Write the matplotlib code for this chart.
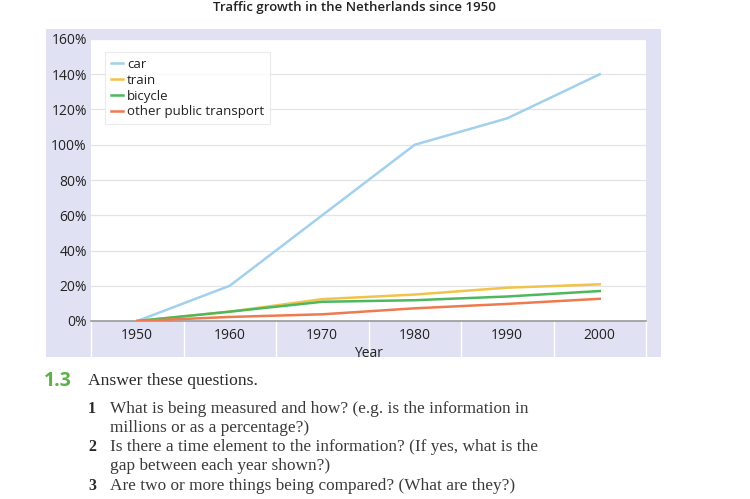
import matplotlib
matplotlib.use("Agg")
import matplotlib.pyplot as plt

years = [1950, 1960, 1970, 1980, 1990, 2000]
car = [0, 20, 60, 100, 115, 140]
train = [0, 5.3, 12.4, 15, 18.9, 20.8]
bicycle = [0, 5.3, 10.9, 11.8, 13.9, 17]
other_pt = [0, 2.3, 3.8, 7.2, 9.7, 12.6]
yticks = [0, 20, 40, 60, 80, 100, 120, 140, 160]
series_names = ["car", "train", "bicycle", "other public transport"]
series_colors = ["#a3d0ec", "#f2c34a", "#4db85e", "#ef7a4f"]

W, H = 750, 499
fig = plt.figure(figsize=(W / 100, H / 100), dpi=100)
fig.patch.set_facecolor("white")

def fx(px):
    return px / W

def fy(py):
    return 1 - py / H

lav = "#e0e1f3"
# lavender panel as a background axes
bg = fig.add_axes([fx(46), fy(357), fx(661) - fx(46), fy(29) - fy(357)], zorder=0)
bg.set_facecolor(lav)
bg.set_xticks([])
bg.set_yticks([])
for s in bg.spines.values():
    s.set_visible(False)

left, right, top, bottom = 91, 646, 39, 321
ax = fig.add_axes([fx(left), fy(bottom), fx(right) - fx(left), fy(top) - fy(bottom)], zorder=2)
ax.set_facecolor("white")

for name, vals, c in zip(series_names, [car, train, bicycle, other_pt], series_colors):
    ax.plot(years, vals, color=c, lw=1.8, label=name, zorder=3)

ax.set_xlim(1945, 2005)
ax.set_ylim(0, 160)
ax.set_yticks(yticks)
ax.set_yticklabels([f"{v}%" for v in yticks], fontsize=10, color="#222222", family="Open Sans")
ax.set_xticks(years)
ax.set_xticklabels([str(y) for y in years], fontsize=10, color="#222222", family="Open Sans")
ax.tick_params(axis="y", length=0, pad=3)
ax.tick_params(axis="x", length=0, pad=5)
for yv in yticks[1:]:
    ax.axhline(yv, color="#e4e4e4", lw=0.9, zorder=1)
for s in ["top", "right", "left"]:
    ax.spines[s].set_visible(False)
ax.spines["bottom"].set_color("#9a9a9a")
ax.spines["bottom"].set_linewidth(1.2)
ax.set_xlabel("Year", fontsize=10, color="#222222", family="Open Sans", labelpad=2)

# white separators in lower band
for yr in [1945, 1955, 1965, 1975, 1985, 1995, 2005]:
    ax.plot([yr, yr], [0, -20], color="white", lw=1.0, clip_on=False, zorder=0)

leg = ax.legend(loc="upper left", bbox_to_anchor=(0.014, 0.978), frameon=True,
                handlelength=0.9, handletextpad=0.3, labelspacing=0.22, borderpad=0.45,
                prop={"family": "Open Sans", "size": 9.5})
leg.get_frame().set_edgecolor("#e6e6e6")
leg.get_frame().set_linewidth(0.8)
leg.get_frame().set_boxstyle("square", pad=0)
for t in leg.get_texts():
    t.set_color("#222222")

fig.text(fx(354), fy(7), "Traffic growth in the Netherlands since 1950", ha="center", va="center",
         fontsize=9.5, color="#222222", family="Open Sans", fontweight="semibold")

# text below
fig.text(fx(44), fy(381), "1.3", ha="left", va="center", fontsize=14, color="#5db04a",
         family="Open Sans", fontweight="bold")
fig.text(fx(88), fy(381), "Answer these questions.", ha="left", va="center", fontsize=12.6,
         color="#2a2a2a", family="Liberation Serif")
items = [
    (409, "1", "What is being measured and how? (e.g. is the information in"),
    (428, "", "millions or as a percentage?)"),
    (447, "2", "Is there a time element to the information? (If yes, what is the"),
    (466, "", "gap between each year shown?)"),
    (486, "3", "Are two or more things being compared? (What are they?)"),
]
for y, num, txt in items:
    if num:
        fig.text(fx(88), fy(y), num, ha="left", va="center", fontsize=11.5, color="#2a2a2a",
                 family="Liberation Serif", fontweight="bold")
    fig.text(fx(110), fy(y), txt, ha="left", va="center", fontsize=12.4, color="#3a3a3a",
             family="Liberation Serif")

fig.savefig("out.png", dpi=100)
